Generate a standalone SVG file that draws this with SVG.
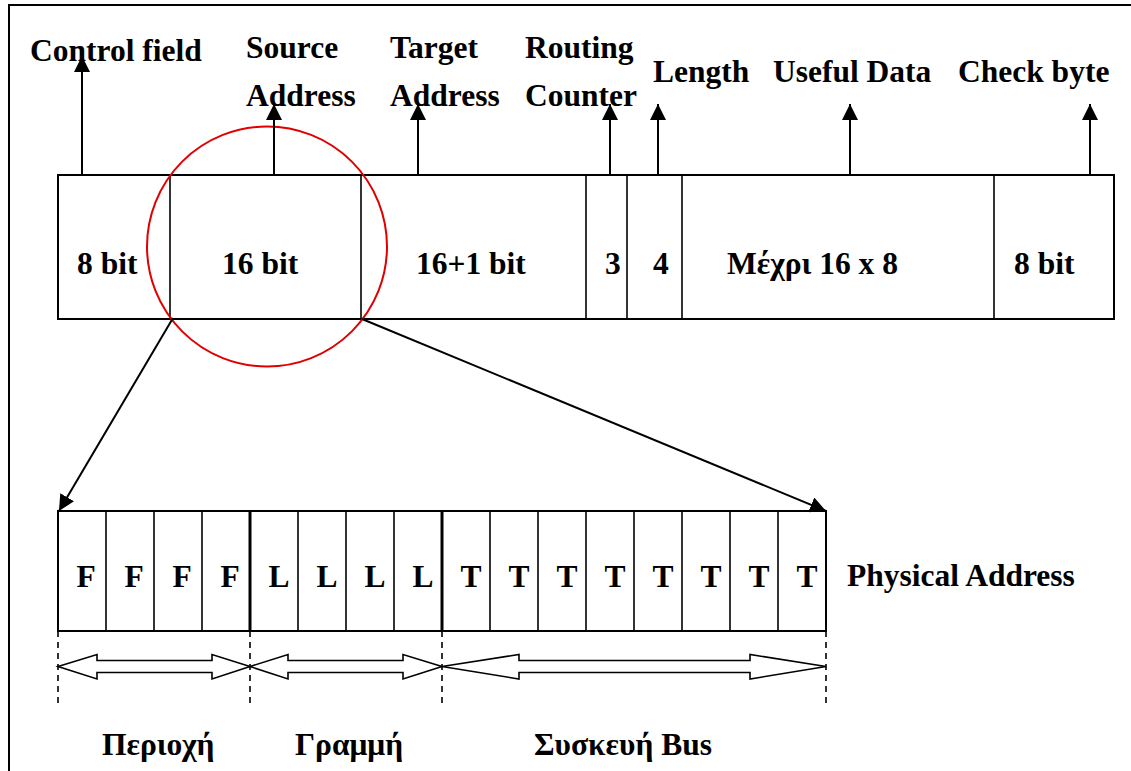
<svg xmlns="http://www.w3.org/2000/svg" width="1131" height="771" viewBox="0 0 1131 771">
<style>
text{font-family:"Liberation Serif","Times New Roman",serif;font-weight:bold;font-size:31.5px;fill:#000}
.c{text-anchor:middle}
.box{fill:#fff;stroke:#000;stroke-width:2}
.div{stroke:#000;stroke-width:1.6}
.thick{stroke:#000;stroke-width:3}
.conn{stroke:#000;stroke-width:2;fill:none}
.dash{stroke:#000;stroke-width:1.6;stroke-dasharray:6,5}
.dbl{fill:#fff;stroke:#000;stroke-width:1.6}
</style>
<defs>
<marker id="ah" markerUnits="userSpaceOnUse" markerWidth="16" markerHeight="16" viewBox="0 0 16 16" refX="16" refY="8" orient="auto">
<path d="M0,0 L16,8 L0,16 z" fill="#000"/>
</marker>
</defs>
<rect width="1131" height="771" fill="#fff"/>
<rect x="9" y="5" width="1200" height="820" fill="none" stroke="#000" stroke-width="2"/>

<g id="top-frame">
<rect class="box" x="58" y="175" width="1056" height="144"/>
<line class="div" x1="170" y1="175" x2="170" y2="319"/>
<line class="div" x1="361" y1="175" x2="361" y2="319"/>
<line class="div" x1="586" y1="175" x2="586" y2="319"/>
<line class="div" x1="627" y1="175" x2="627" y2="319"/>
<line class="div" x1="682" y1="175" x2="682" y2="319"/>
<line class="div" x1="994" y1="175" x2="994" y2="319"/>
<text x="77" y="274">8 bit</text>
<text x="222" y="274">16 bit</text>
<text x="416" y="274">16+1 bit</text>
<text x="605" y="274">3</text>
<text x="653" y="274">4</text>
<text x="727" y="274">Μέχρι 16 x 8</text>
<text x="1014" y="274">8 bit</text>
</g>

<g id="field-labels">
<text x="30" y="61">Control field</text>
<text x="246" y="58">Source</text>
<text x="246" y="106">Address</text>
<text x="390" y="58">Target</text>
<text x="390" y="106">Address</text>
<text x="525" y="58">Routing</text>
<text x="525" y="106">Counter</text>
<text x="653" y="82">Length</text>
<text x="773" y="82">Useful Data</text>
<text x="958" y="82">Check byte</text>
</g>

<g id="highlight">
<circle cx="267" cy="246.5" r="120" fill="none" stroke="#e00000" stroke-width="2"/>
</g>

<g id="bottom-frame">
<rect class="box" x="58" y="511" width="768" height="120"/>
<line class="div" x1="106" y1="511" x2="106" y2="631"/>
<line class="div" x1="154" y1="511" x2="154" y2="631"/>
<line class="div" x1="202" y1="511" x2="202" y2="631"/>
<line class="thick" x1="250" y1="511" x2="250" y2="631"/>
<line class="div" x1="298" y1="511" x2="298" y2="631"/>
<line class="div" x1="346" y1="511" x2="346" y2="631"/>
<line class="div" x1="394" y1="511" x2="394" y2="631"/>
<line class="thick" x1="442" y1="511" x2="442" y2="631"/>
<line class="div" x1="490" y1="511" x2="490" y2="631"/>
<line class="div" x1="538" y1="511" x2="538" y2="631"/>
<line class="div" x1="586" y1="511" x2="586" y2="631"/>
<line class="div" x1="634" y1="511" x2="634" y2="631"/>
<line class="div" x1="682" y1="511" x2="682" y2="631"/>
<line class="div" x1="730" y1="511" x2="730" y2="631"/>
<line class="div" x1="778" y1="511" x2="778" y2="631"/>
<text class="c" x="86" y="587">F</text>
<text class="c" x="134" y="587">F</text>
<text class="c" x="182" y="587">F</text>
<text class="c" x="230" y="587">F</text>
<text class="c" x="279" y="587">L</text>
<text class="c" x="327" y="587">L</text>
<text class="c" x="375" y="587">L</text>
<text class="c" x="423" y="587">L</text>
<text class="c" x="471" y="587">T</text>
<text class="c" x="519" y="587">T</text>
<text class="c" x="567" y="587">T</text>
<text class="c" x="615" y="587">T</text>
<text class="c" x="663" y="587">T</text>
<text class="c" x="711" y="587">T</text>
<text class="c" x="759" y="587">T</text>
<text class="c" x="807" y="587">T</text>
<text x="847" y="586">Physical Address</text>
</g>

<g id="ranges">
<line class="dash" x1="58" y1="631" x2="58" y2="704"/>
<line class="dash" x1="250" y1="631" x2="250" y2="704"/>
<line class="dash" x1="442" y1="631" x2="442" y2="704"/>
<line class="dash" x1="826" y1="631" x2="826" y2="704"/>
<path class="dbl" d="M58,666.5 L97,654.5 L97,660.5 L212,660.5 L212,654.5 L250,666.5 L212,679 L212,672.5 L97,672.5 L97,679 z"/>
<path class="dbl" d="M250,666.5 L288,654.5 L288,660.5 L403,660.5 L403,654.5 L442,666.5 L403,679 L403,672.5 L288,672.5 L288,679 z"/>
<path class="dbl" d="M442,666.5 L519,654.5 L519,660.5 L750,660.5 L750,654.5 L826,666.5 L750,679 L750,672.5 L519,672.5 L519,679 z"/>
<text x="102" y="755">Περιοχή</text>
<text x="295" y="755">Γραμμή</text>
<text x="534" y="755">Συσκευή Bus</text>
</g>

<g id="connectors">
<line class="conn" x1="82" y1="175" x2="82" y2="56" marker-end="url(#ah)"/>
<line class="conn" x1="274" y1="175" x2="274" y2="104" marker-end="url(#ah)"/>
<line class="conn" x1="418" y1="175" x2="418" y2="104" marker-end="url(#ah)"/>
<line class="conn" x1="610" y1="175" x2="610" y2="104" marker-end="url(#ah)"/>
<line class="conn" x1="658" y1="175" x2="658" y2="104" marker-end="url(#ah)"/>
<line class="conn" x1="850" y1="175" x2="850" y2="104" marker-end="url(#ah)"/>
<line class="conn" x1="1090" y1="175" x2="1090" y2="104" marker-end="url(#ah)"/>
<line class="conn" x1="173" y1="318" x2="59" y2="511" marker-end="url(#ah)"/>
<line class="conn" x1="362" y1="319" x2="826" y2="511" marker-end="url(#ah)"/>
</g>
</svg>
